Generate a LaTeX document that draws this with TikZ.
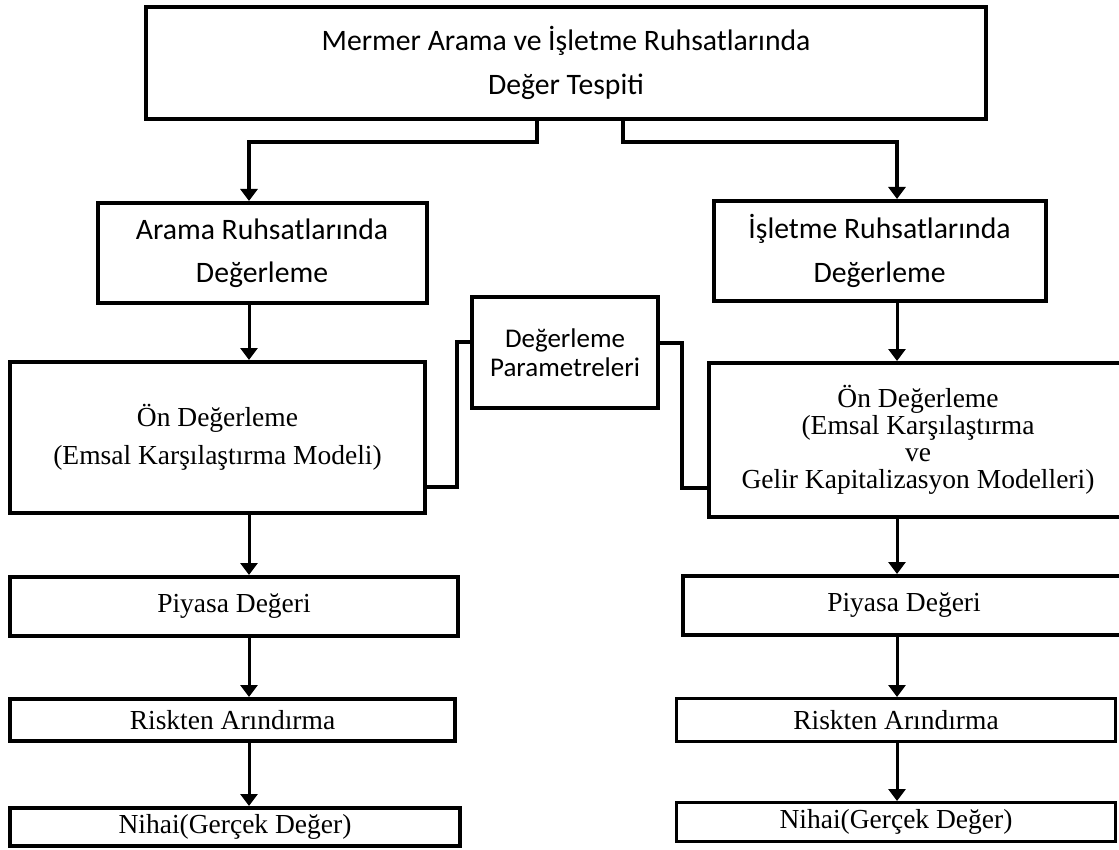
\documentclass[tikz,border=0pt]{standalone}
\usepackage{fontspec}
\setmainfont{Liberation Serif}
\newfontfamily\calfont{Carlito}
\usetikzlibrary{arrows.meta}
\begin{document}
\begin{tikzpicture}[x=1pt,y=-1pt,
  box/.style={draw=black, line width=4pt, inner sep=0pt, align=center, fill=white},
  thinbox/.style={box, line width=3pt},
  sanstext/.style={font=\calfont\fontsize{29.7}{43.5}\selectfont},
  partext/.style={font=\calfont\fontsize{27}{29}\selectfont},
  sertext/.style={font=\fontsize{27.5}{38}\selectfont},
  sertight/.style={font=\fontsize{27.5}{27}\selectfont},
  arr/.style={line width=3pt, -{Triangle[width=17pt,length=12pt]}},
  tarr/.style={line width=4pt, -{Triangle[width=17pt,length=12pt]}},
  link/.style={line width=4pt}]
\useasboundingbox (0,0) rectangle (1119,850);
\fill[white] (0,0) rectangle (1119,850);

\coordinate (lx) at (249,0);
\coordinate (rx) at (897,0);

\node[box, sanstext, minimum width=840pt, minimum height=112pt] (top) at (566,63)
  {Mermer Arama ve İşletme Ruhsatlarında\\Değer Tespiti};

\node[box, sanstext, minimum width=329pt, minimum height=100pt] (arama) at (262,253)
  {Arama Ruhsatlarında\\Değerleme};
\node[box, sanstext, minimum width=332pt, minimum height=100pt] (isletme) at (879.5,251)
  {İşletme Ruhsatlarında\\Değerleme};

\node[box, partext, minimum width=186pt, minimum height=110pt] (param) at (565,352.5)
  {Değerleme\\Parametreleri};

\node[box, sertext, minimum width=415pt, minimum height=151pt] (onL) at (217.5,437.5)
  {Ön Değerleme\\(Emsal Karşılaştırma Modeli)};
\node[box, sertight, minimum width=418pt, minimum height=154pt] (onR) at (918,440)
  {Ön Değerleme\\(Emsal Karşılaştırma\\ve\\Gelir Kapitalizasyon Modelleri)};

\node[box, sertext, minimum width=448pt, minimum height=59pt] (piyL) at (234,606.5) {Piyasa Değeri};
\node[box, sertext, minimum width=445pt, minimum height=42pt] (riskL) at (232.5,720) {Riskten Arındırma};
\node[box, sertext, minimum width=450pt, minimum height=38pt] (nihL) at (235,827) {Nihai(Gerçek Değer)};

\node[box, sertext, minimum width=442pt, minimum height=59pt] (piyR) at (904,605.5) {Piyasa Değeri};
\node[thinbox, sertext, minimum width=439pt, minimum height=43pt] (riskR) at (896,720) {Riskten Arındırma};
\node[thinbox, sertext, minimum width=439pt, minimum height=39pt] (nihR) at (896,822) {Nihai(Gerçek Değer)};

% top connectors
\draw[tarr] ([xshift=-29pt]top.south) -- ++(0,21) -| (arama.north -| lx);
\draw[tarr] ([xshift=57pt]top.south) -- ++(0,21) -| (isletme.north -| rx);

% left chain
\draw[arr] (arama.south -| lx) -- (onL.north -| lx);
\draw[arr] (onL.south -| lx) -- (piyL.north -| lx);
\draw[arr] (piyL.south -| lx) -- (riskL.north -| lx);
\draw[arr] (riskL.south -| lx) -- (nihL.north -| lx);

% right chain
\draw[arr] (isletme.south -| rx) -- (onR.north -| rx);
\draw[arr] (onR.south -| rx) -- (piyR.north -| rx);
\draw[arr] (piyR.south -| rx) -- (riskR.north -| rx);
\draw[arr] (riskR.south -| rx) -- (nihR.north -| rx);

% parameter links
\coordinate (pL) at (457,487);
\coordinate (pR) at (682,488);
\draw[link] ([yshift=10.5pt]param.west) -| (pL) -- (onL.east |- pL);
\draw[link] ([yshift=10pt]param.east) -| (pR) -- (onR.west |- pR);
\end{tikzpicture}
\end{document}
